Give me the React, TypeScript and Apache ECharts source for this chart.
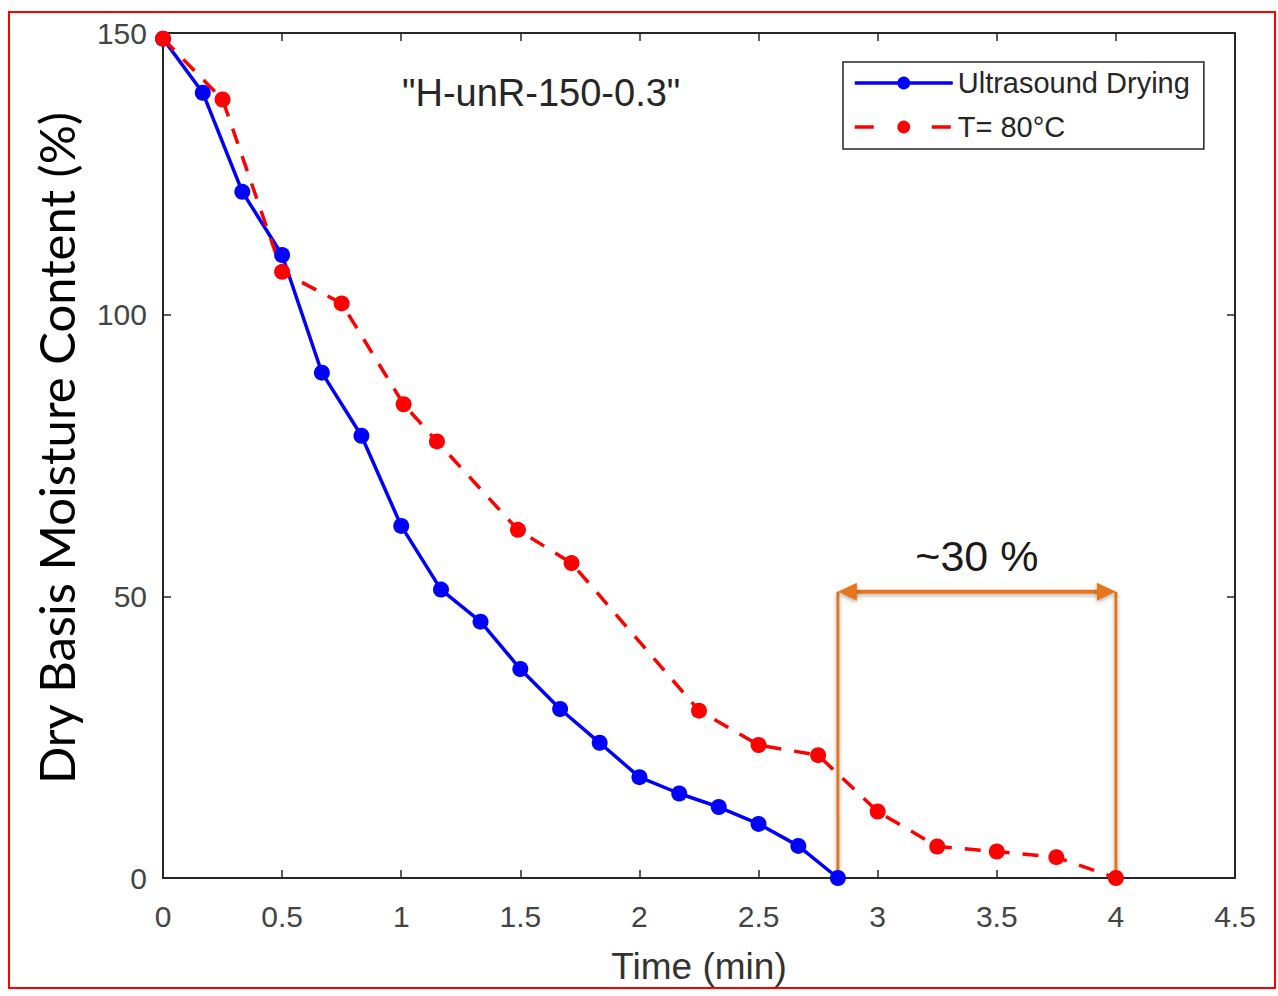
import React, { useEffect, useRef } from "react";
import * as echarts from "echarts";

// ---- data ----
const ultrasoundTime = [0, 0.167, 0.333, 0.5, 0.667, 0.833, 1.0, 1.167, 1.333, 1.5, 1.667, 1.833, 2.0, 2.167, 2.333, 2.5, 2.667, 2.833];
const ultrasoundMoisture = [149, 139.4, 121.8, 110.6, 89.7, 78.5, 62.5, 51.2, 45.5, 37.1, 30.0, 24.0, 17.9, 15.0, 12.6, 9.6, 5.7, 0];
const hotAirTime = [0, 0.25, 0.5, 0.75, 1.01, 1.15, 1.49, 1.715, 2.25, 2.5, 2.75, 3.0, 3.25, 3.5, 3.75, 4.0];
const hotAirMoisture = [149, 138.2, 107.6, 102.0, 84.1, 77.5, 61.8, 55.9, 29.7, 23.6, 21.8, 11.8, 5.6, 4.7, 3.7, 0];
const seriesNames = ["Ultrasound Drying", "T= 80\u00B0C"];
const xRange = [0, 4.5];
const xStep = 0.5;
const yRange = [0, 150];
const yStep = 50;
const plotTitle = '"H-unR-150-0.3"';
const xTitle = "Time (min)";
const yTitle = "Dry Basis Moisture Content (%)";
const annotationX = [2.833, 4.0];
const annotationY = 50.8;
const annotationLabel = "~30 %";
const annotationLabelY = 57.2;

const AXIS = "#262626";
const ORANGE = "#E5761E";

export default function App() {
  const ref = useRef<HTMLDivElement>(null);

  useEffect(() => {
    if (!ref.current) return;
    const chart = echarts.init(ref.current, null, { renderer: "svg" });

    const tickAxisCommon = {
      type: "value",
      splitLine: { show: false },
      axisLine: { show: true, onZero: false, lineStyle: { color: AXIS, width: 2 } },
      axisTick: { show: true, inside: true, length: 8, lineStyle: { color: AXIS, width: 1.5 } },
    };

    chart.setOption({
      animation: false,
      backgroundColor: "#ffffff",
      textStyle: { fontFamily: "Liberation Sans" },
      grid: { left: 163, right: 43, top: 33, bottom: 118, containLabel: false },
      legend: {
        orient: "vertical",
        left: 843,
        top: 62,
        padding: [6, 14, 7, 10],
        itemWidth: 98,
        itemHeight: 16,
        itemGap: 14,
        selectedMode: false,
        borderColor: AXIS,
        borderWidth: 1.5,
        backgroundColor: "#ffffff",
        textStyle: { fontSize: 29, lineHeight: 30, color: AXIS, fontFamily: "Liberation Sans" },
        data: [
          { name: seriesNames[0], lineStyle: { width: 3.5 } },
          { name: seriesNames[1], lineStyle: { width: 3.5, type: [19, 58] } },
        ],
      },
      xAxis: [
        {
          ...tickAxisCommon,
          position: "bottom",
          min: xRange[0],
          max: xRange[1],
          interval: xStep,
          axisLabel: { fontSize: 30, color: "#444444", margin: 23 },
          name: xTitle,
          nameLocation: "middle",
          nameGap: 70,
          nameTextStyle: { fontSize: 37, color: "#333333" },
        },
        {
          ...tickAxisCommon,
          position: "top",
          min: xRange[0],
          max: xRange[1],
          interval: xStep,
          axisLabel: { show: false },
        },
      ],
      yAxis: [
        {
          ...tickAxisCommon,
          position: "left",
          min: yRange[0],
          max: yRange[1],
          interval: yStep,
          axisLabel: { fontSize: 30, color: "#444444", margin: 16 },
        },
        {
          ...tickAxisCommon,
          position: "right",
          min: yRange[0],
          max: yRange[1],
          interval: yStep,
          axisLabel: { show: false },
        },
      ],
      series: [
        {
          name: seriesNames[0],
          type: "line",
          xAxisIndex: 0,
          yAxisIndex: 0,
          data: ultrasoundTime.map((t, i) => [t, ultrasoundMoisture[i]]),
          symbol: "circle",
          symbolSize: 16,
          showAllSymbol: true,
          color: "#0000FF",
          itemStyle: { color: "#0000FF" },
          lineStyle: { color: "#0000FF", width: 3.5 },
        },
        {
          name: seriesNames[1],
          type: "line",
          xAxisIndex: 0,
          yAxisIndex: 0,
          data: hotAirTime.map((t, i) => [t, hotAirMoisture[i]]),
          symbol: "circle",
          symbolSize: 16,
          showAllSymbol: true,
          color: "#FF0000",
          itemStyle: { color: "#FF0000" },
          lineStyle: { color: "#FF0000", width: 3.5, type: [16, 13] },
        },
      ],
    });

    const px = (x: number, y: number) =>
      chart.convertToPixel({ xAxisIndex: 0, yAxisIndex: 0 }, [x, y]) as number[];
    const [xL, yA] = px(annotationX[0], annotationY);
    const [xR] = px(annotationX[1], annotationY);
    const [, yBase] = px(annotationX[0], 0);
    const [, yText] = px(annotationX[0], annotationLabelY);
    const shadow = { shadowBlur: 4, shadowOffsetY: 2, shadowColor: "rgba(0,0,0,0.3)" };

    chart.setOption({
      graphic: [
        {
          type: "rect",
          shape: { x: 9, y: 12, width: 1266, height: 976 },
          style: { fill: "none", stroke: "#FF0000", lineWidth: 2 },
          silent: true,
        },
        {
          type: "text",
          x: 402,
          y: 93,
          style: {
            text: plotTitle,
            fontSize: 38,
            fontFamily: "Liberation Sans",
            fill: AXIS,
            align: "left",
            verticalAlign: "middle",
          },
        },
        {
          type: "text",
          x: 56,
          y: 448,
          rotation: Math.PI / 2,
          style: {
            text: yTitle,
            fontSize: 49,
            fontFamily: "Lato",
            fill: "#000000",
            align: "center",
            verticalAlign: "middle",
          },
        },
        {
          type: "rect",
          shape: { x: xL - 1.5, y: yA, width: 3, height: yBase - yA },
          style: { fill: ORANGE, ...shadow },
        },
        {
          type: "rect",
          shape: { x: xR - 1.5, y: yA, width: 3, height: yBase - yA },
          style: { fill: ORANGE, ...shadow },
        },
        {
          type: "rect",
          shape: { x: xL + 12, y: yA - 2, width: xR - xL - 24, height: 4 },
          style: { fill: ORANGE, ...shadow },
        },
        {
          type: "polygon",
          shape: { points: [[xL, yA], [xL + 19, yA - 9], [xL + 19, yA + 9]] },
          style: { fill: ORANGE, ...shadow },
        },
        {
          type: "polygon",
          shape: { points: [[xR, yA], [xR - 19, yA - 9], [xR - 19, yA + 9]] },
          style: { fill: ORANGE, ...shadow },
        },
        {
          type: "text",
          x: (xL + xR) / 2,
          y: yText,
          style: {
            text: annotationLabel,
            fontSize: 43,
            fontFamily: "Liberation Sans",
            fill: "#1a1a1a",
            align: "center",
            verticalAlign: "middle",
          },
        },
      ],
    });

    return () => chart.dispose();
  }, []);

  return (
    <div
      ref={ref}
      style={{ position: "fixed", left: 0, top: 0, width: 1278, height: 996, background: "#fff" }}
    />
  );
}
